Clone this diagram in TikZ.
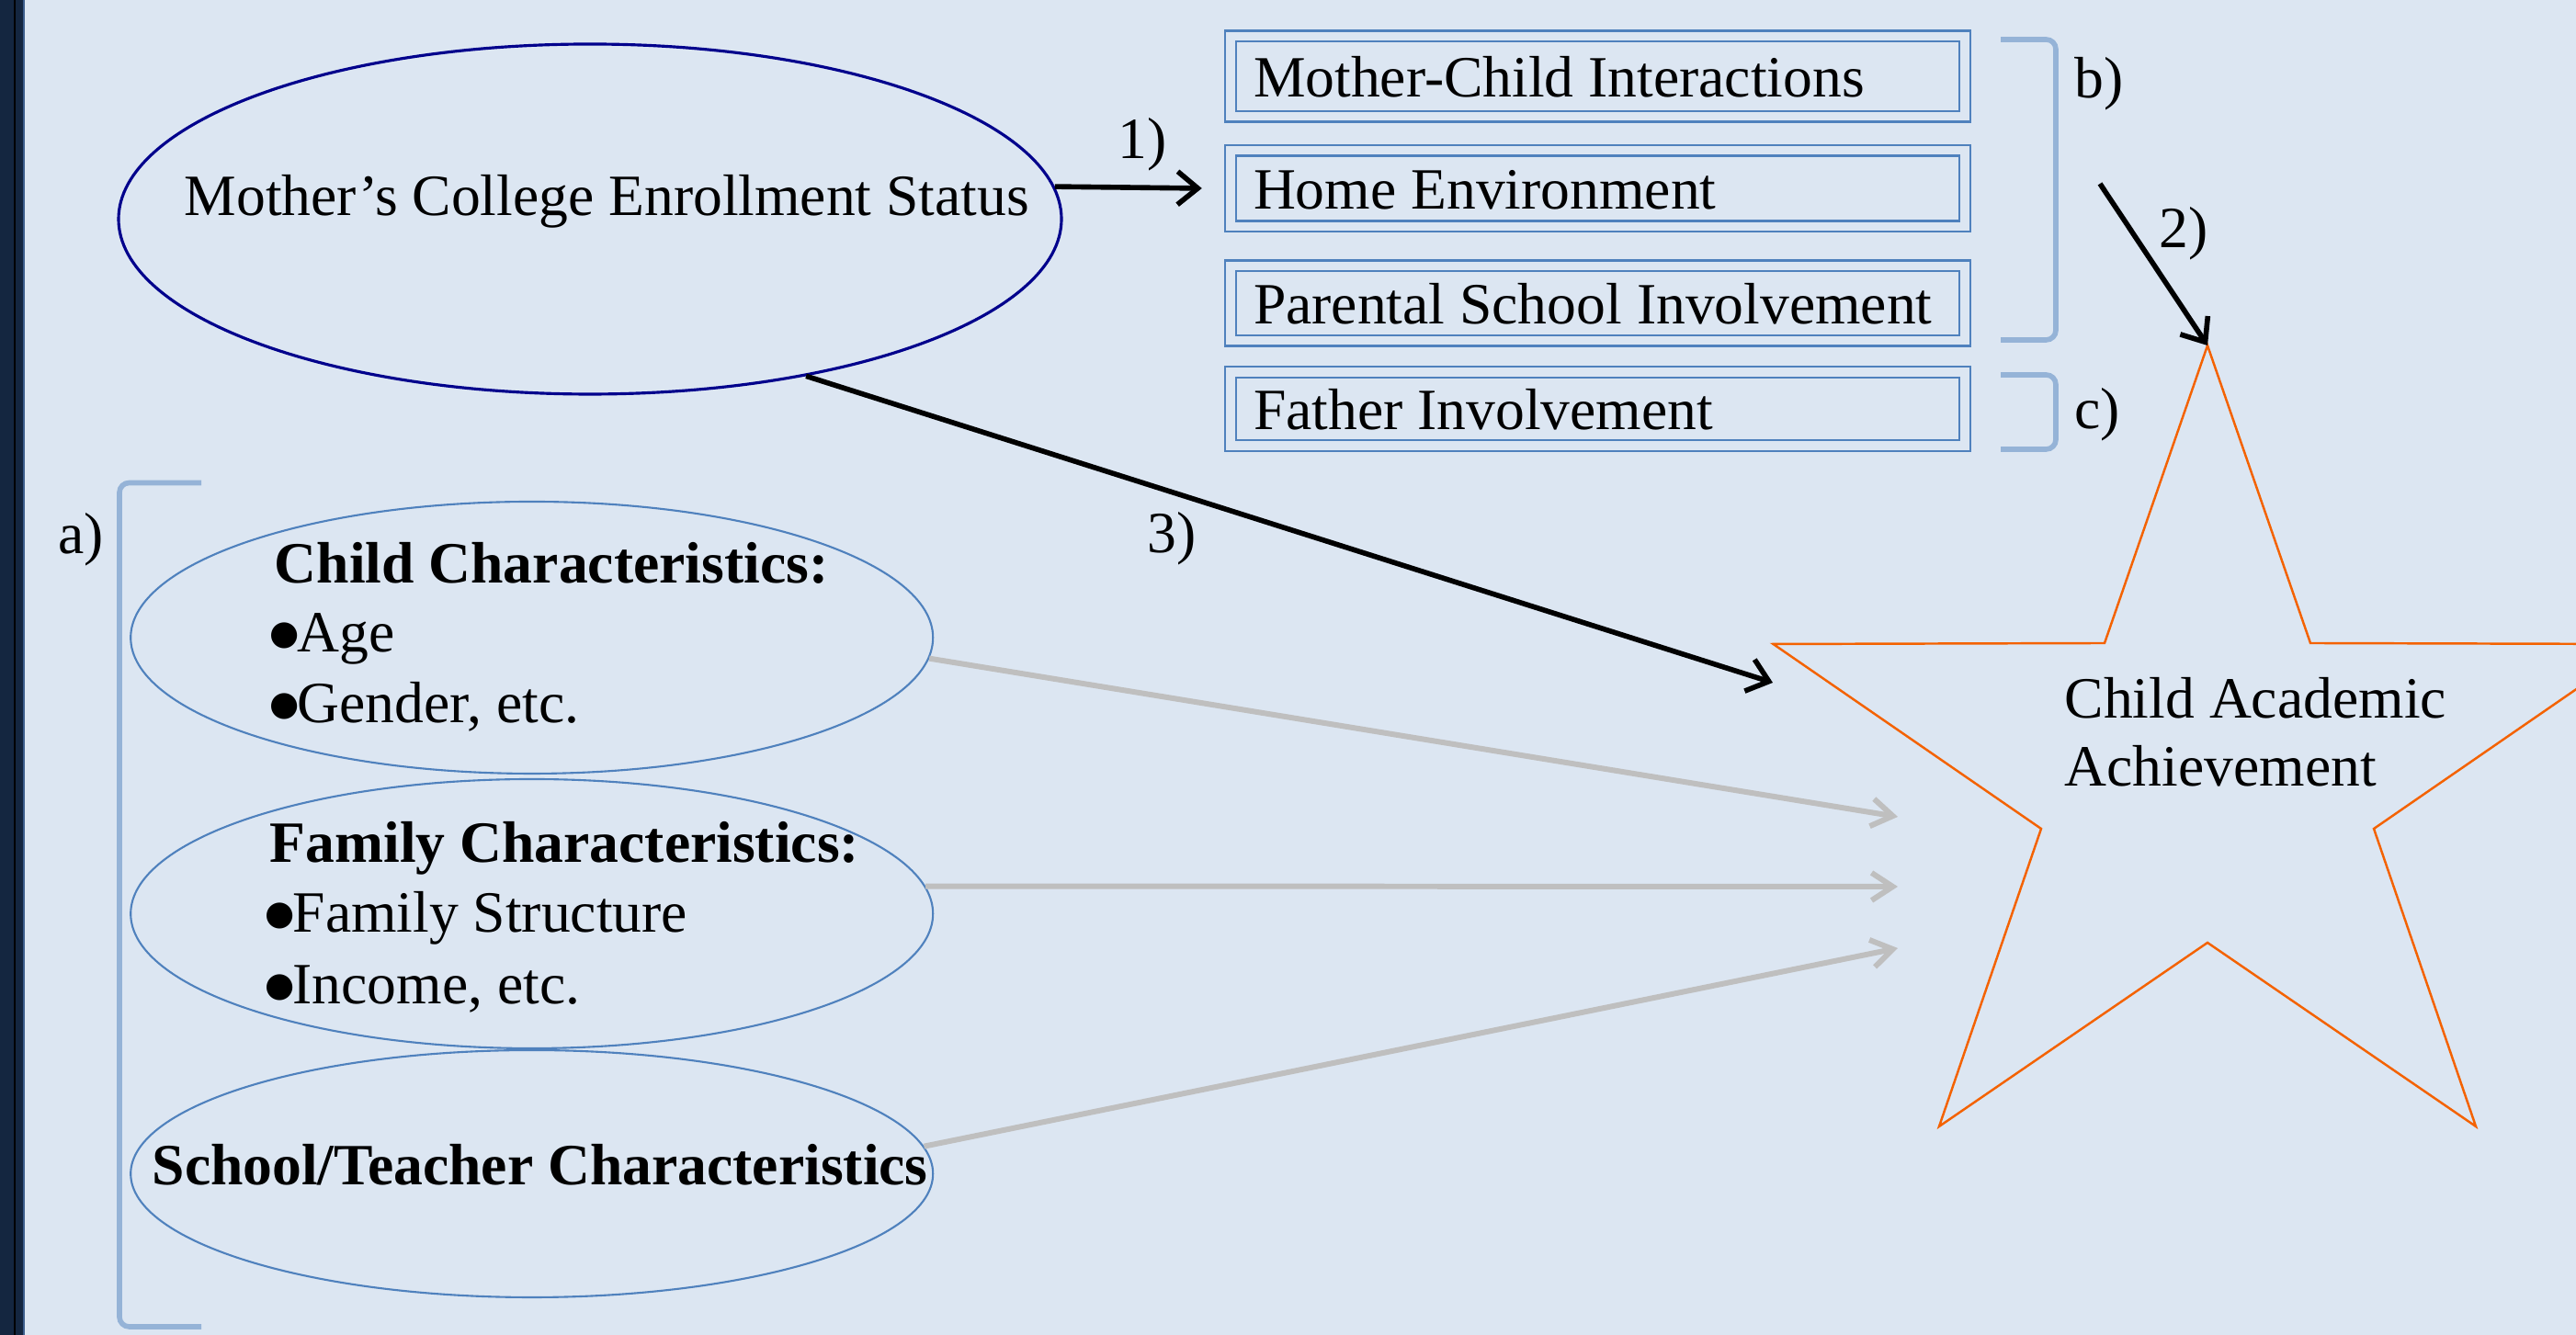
\documentclass[tikz,border=0pt]{standalone}
\usepackage{fontspec}
\setmainfont{Liberation Serif}
\newfontfamily\dotfont{DejaVu Sans}
\usetikzlibrary{arrows.meta,shapes.geometric}
\definecolor{slidebg}{HTML}{DCE6F2}
\definecolor{slidebar}{HTML}{142640}
\definecolor{barstrip}{HTML}{3D5E8C}
\definecolor{boxblue}{HTML}{4F81BD}
\definecolor{bracketblue}{HTML}{95B3D7}
\definecolor{navyline}{HTML}{00008C}
\definecolor{starorange}{HTML}{F46200}
\definecolor{greyarrow}{HTML}{BFBFBF}
\newcommand{\slidefont}{\fontsize{18.1}{21.7}\selectfont}
\newcommand{\boxtext}[1]{\makebox[7.49cm][l]{#1}}
\newcommand{\bul}{\makebox[0.25cm][l]{\hspace*{-0.05cm}\raisebox{0.08cm}{\dotfont\fontsize{10.5}{11}\selectfont ●}}}
\tikzset{
oval/.style={draw=boxblue,line width=0.6pt,ellipse,inner sep=0pt,minimum width=8.73cm},
mainoval/.style={draw=navyline,line width=0.9pt,ellipse,inner sep=0pt},
medbox/.style={draw=boxblue,line width=0.7pt,double=slidebg,double distance=2.6pt,minimum width=7.99cm,inner xsep=0.25cm,inner ysep=0pt,text height=0.5cm,text depth=0.04cm},
txt/.style={anchor=base west,inner sep=0pt},
bracketline/.style={draw=bracketblue,line width=1.6pt,rounded corners=3pt},
patharrow/.style={-{Straight Barb[length=2.2mm,width=3.6mm]},line width=1.6pt,black},
covarrow/.style={-{Straight Barb[length=2.3mm,width=3mm]},line width=1.7pt,greyarrow},
starline/.style={draw=starorange,line width=0.7pt}
}

\begin{document}
\begin{tikzpicture}[every node/.style={font=\slidefont}]
\useasboundingbox (0,0) rectangle (28.03,14.53);
\clip (0,0) rectangle (28.03,14.53);
\fill[slidebg] (0,0) rectangle (28.03,14.53);
\fill[slidebar] (0,0) rectangle (0.27,14.53);
\fill[black] (0.15,0) rectangle (0.173,14.53);
\fill[barstrip] (0.25,0) rectangle (0.27,14.53);

\node[mainoval,minimum width=10.26cm,minimum height=3.81cm] (mother) at (6.42,12.145) {};
\node[txt] (mothertext) at (2.00,12.18) {Mother’s College Enrollment Status};

\node[medbox,minimum height=0.875cm] (mcint) at (17.385,13.70) {\boxtext{Mother-Child Interactions}};
\node[medbox,minimum height=0.825cm] (home) at (17.385,12.48) {\boxtext{Home Environment}};
\node[medbox,minimum height=0.815cm] (psinv) at (17.385,11.23) {\boxtext{Parental School Involvement}};
\node[medbox,minimum height=0.8cm] (father) at (17.385,10.08) {\boxtext{Father Involvement}};

\draw[bracketline] (21.77,14.10) -- (22.37,14.10) -- (22.37,10.83) -- (21.77,10.83);
\draw[bracketline] (21.77,10.45) -- (22.37,10.45) -- (22.37,9.64) -- (21.77,9.64);
\draw[bracketline] (2.19,9.275) -- (1.30,9.275) -- (1.30,0.09) -- (2.19,0.09);
\node[txt] (lblb) at (22.57,13.46) {b)};
\node[txt] (lblc) at (22.57,9.86) {c)};
\node[txt] (lbla) at (0.63,8.50) {a)};

\node[oval,minimum height=2.96cm] (childc) at (5.787,7.59) {};
\node[oval,minimum height=2.93cm] (familyc) at (5.787,4.585) {};
\node[oval,minimum height=2.69cm] (schoolc) at (5.787,1.755) {};
\node[txt] (childhead) at (2.98,8.18) {\bfseries Child Characteristics:};
\node[txt] (childage) at (2.98,7.43) {\bul Age};
\node[txt] (childgender) at (2.98,6.66) {\bul Gender, etc.};
\node[txt] (familyhead) at (2.93,5.14) {\bfseries Family Characteristics:};
\node[txt] (familystruct) at (2.93,4.38) {\bul Family Structure};
\node[txt] (familyincome) at (2.93,3.60) {\bul Income, etc.};
\node[txt] (schoolhead) at (1.65,1.63) {\bfseries School/Teacher Characteristics};

\draw[starline] (24.02,10.77) -- (25.14,7.53) -- (28.745,7.52) -- (25.83,5.51) -- (26.94,2.27)
  -- (24.02,4.27) -- (21.10,2.27) -- (22.21,5.51) -- (19.295,7.52) -- (22.90,7.53) -- cycle;
\node[txt] (goalone) at (22.46,6.71) {Child Academic};
\node[txt] (goaltwo) at (22.46,5.97) {Achievement};

\coordinate (startop) at (24.02,10.77);
\coordinate (bstart) at (22.85,12.53);
\coordinate (directend) at (19.29,7.10);
\coordinate (childend) at (20.65,5.64);
\coordinate (familyend) at (20.65,4.88);
\coordinate (schoolend) at (20.65,4.21);

\draw[patharrow] (mother.4) -- ([xshift=-3mm]home.west);
\draw[patharrow] (bstart) -- (startop);
\draw[patharrow] (mother.-36) -- (directend);
\draw[covarrow] (childc.-3) -- (childend);
\draw[covarrow] (familyc.4) -- (familyend);
\draw[covarrow] (schoolc.4) -- (schoolend);

\node[txt] (lblone) at (12.16,12.80) {1)};
\node[txt] (lbltwo) at (23.49,11.83) {2)};
\node[txt] (lblthree) at (12.48,8.51) {3)};
\end{tikzpicture}
\end{document}
